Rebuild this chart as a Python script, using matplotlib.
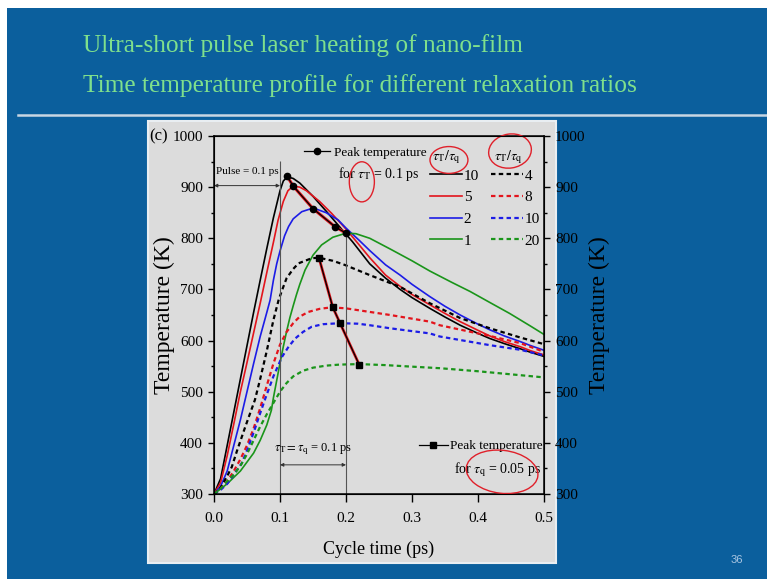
import matplotlib.pyplot as plt
from matplotlib.patches import Rectangle, Ellipse
from matplotlib.lines import Line2D

plt.rcParams['font.family'] = ['Liberation Serif', 'DejaVu Serif']
plt.rcParams['mathtext.fontset'] = 'stix'

# solid curves, tau_T/tau_q = 10, 5, 2, 1
time_r10 = [0, 0.01, 0.02, 0.03, 0.04, 0.05, 0.06, 0.07, 0.08, 0.09, 0.10, 0.105, 0.111, 0.12, 0.13,
            0.15, 0.17, 0.19, 0.21, 0.236, 0.26, 0.282, 0.30, 0.327, 0.35, 0.373, 0.40, 0.418, 0.44,
            0.464, 0.48, 0.50]
temp_r10 = [300, 330, 395, 460, 525, 590, 655, 718, 780, 840, 893, 912, 920, 917, 908,
            882, 853, 823, 793, 750, 722, 700, 684, 663, 646, 630, 614, 604, 594,
            584, 577, 569]

time_r5 = [0, 0.01, 0.02, 0.03, 0.04, 0.05, 0.06, 0.07, 0.08, 0.09, 0.097, 0.105, 0.112, 0.12, 0.13,
           0.14, 0.16, 0.178, 0.20, 0.22, 0.236, 0.26, 0.282, 0.30, 0.327, 0.35, 0.373, 0.40, 0.418,
           0.44, 0.464, 0.48, 0.50]
temp_r5 = [300, 322, 375, 437, 500, 557, 615, 673, 733, 792, 835, 872, 893, 902, 900,
           893, 872, 849, 818, 787, 762, 728, 706, 690, 670, 653, 637, 620, 609,
           598, 588, 580, 572]

time_r2 = [0, 0.01, 0.02, 0.03, 0.04, 0.05, 0.06, 0.07, 0.08, 0.085, 0.09, 0.095, 0.10, 0.107, 0.113,
           0.12, 0.133, 0.145, 0.153, 0.17, 0.188, 0.20, 0.22, 0.236, 0.26, 0.282, 0.30, 0.327, 0.35,
           0.373, 0.40, 0.418, 0.44, 0.464, 0.48, 0.50]
temp_r2 = [300, 315, 345, 395, 445, 500, 555, 608, 655, 679, 718, 750, 775, 805, 823,
           838, 852, 857, 858, 850, 836, 820, 796, 776, 748, 728, 710, 686, 667,
           650, 632, 621, 609, 598, 590, 581]

time_r1 = [0, 0.02, 0.04, 0.06, 0.07, 0.08, 0.087, 0.09, 0.095, 0.10, 0.105, 0.11, 0.115, 0.12, 0.125,
           0.13, 0.138, 0.15, 0.163, 0.18, 0.20, 0.215, 0.236, 0.267, 0.30, 0.327, 0.36, 0.388, 0.42,
           0.448, 0.48, 0.50]
temp_r1 = [300, 320, 345, 380, 405, 435, 464, 488, 522, 556, 588, 618, 645, 668, 690,
           710, 738, 767, 787, 802, 810, 809, 800, 779, 756, 736, 714, 696, 673,
           653, 628, 612]

# dotted curves, tau_T/tau_q = 4, 8, 10, 20
time_r4 = [0, 0.01, 0.02, 0.027, 0.035, 0.047, 0.062, 0.07, 0.08, 0.09, 0.098, 0.105, 0.11, 0.12,
           0.128, 0.148, 0.159, 0.18, 0.198, 0.236, 0.282, 0.327, 0.373, 0.418, 0.464, 0.50]
temp_r4 = [300, 312, 335, 353, 385, 430, 484, 525, 580, 640, 680, 705, 722, 740,
           751, 761, 762, 756, 748, 728, 705, 673, 644, 624, 606, 593]

time_r8 = [0, 0.01, 0.02, 0.03, 0.04, 0.05, 0.06, 0.07, 0.08, 0.09, 0.10, 0.11, 0.12, 0.13, 0.143,
           0.16, 0.178, 0.20, 0.236, 0.267, 0.327, 0.342, 0.418, 0.464, 0.50]
temp_r8 = [300, 310, 325, 345, 368, 395, 428, 468, 512, 555, 592, 617, 634, 647, 656,
           662, 665, 663, 656, 650, 637, 630, 609, 595, 578]

time_r10q = [0, 0.01, 0.02, 0.03, 0.042, 0.05, 0.06, 0.07, 0.077, 0.09, 0.103, 0.113, 0.123, 0.135,
             0.148, 0.165, 0.191, 0.218, 0.236, 0.267, 0.327, 0.342, 0.418, 0.464, 0.50]
temp_r10q = [300, 308, 320, 338, 360, 385, 420, 458, 484, 530, 568, 588, 604, 617,
             627, 632, 634, 633, 630, 624, 614, 608, 591, 582, 571]

time_r20 = [0, 0.01, 0.02, 0.03, 0.04, 0.05, 0.06, 0.07, 0.08, 0.09, 0.10, 0.11, 0.12, 0.135, 0.15,
            0.17, 0.19, 0.22, 0.26, 0.30, 0.342, 0.40, 0.45, 0.50]
temp_r20 = [300, 310, 325, 338, 355, 378, 405, 432, 456, 478, 500, 517, 530, 541, 547,
            551, 553, 554, 552, 549, 546, 540, 534, 528]

# peak temperature loci
peak_time_tauT = [0.111, 0.12, 0.15, 0.183, 0.20]
peak_temp_tauT = [921, 902, 858, 823, 810]
peak_time_tauq = [0.159, 0.18, 0.191, 0.22]
peak_temp_tauq = [762, 665, 634, 553]

solid_labels = ['10', '5', '2', '1']
dotted_labels = ['4', '8', '10', '20']

W, H = 767, 579
def fx(px):
    return px / W
def fy(py):
    return 1 - py / H

fig = plt.figure(figsize=(W / 100, H / 100), dpi=100, facecolor='white')

# slide background
fig.patches.append(Rectangle((fx(7), 0), 1 - fx(7), fy(8), transform=fig.transFigure,
                             facecolor='#0b5f9d', edgecolor='none', zorder=-3))
fig.lines.append(Line2D([fx(18), 1], [fy(115), fy(115)], transform=fig.transFigure,
                        color='#c9d6e3', lw=1.8, zorder=-2))
fig.text(fx(83), fy(46), 'Ultra-short pulse laser heating of nano-film', color='#7fe08c',
         fontsize=18.3, va='center', ha='left')
fig.text(fx(83), fy(86), 'Time temperature profile for different relaxation ratios', color='#7fe08c',
         fontsize=18.3, va='center', ha='left')
fig.text(fx(737), fy(560), '36', color='#a9c6e2', fontsize=8, family='Liberation Sans',
         va='center', ha='center')

# chart panel
fig.patches.append(Rectangle((fx(148), fy(563)), (556 - 148) / W, (563 - 121) / H,
                             transform=fig.transFigure, facecolor='#dcdcdc',
                             edgecolor='#e9eef2', lw=1.5, zorder=-2))
fig.text(fx(149), fy(136), '(c)', fontsize=12, va='center', ha='left')

ax = fig.add_axes([fx(214), fy(494), (544 - 214) / W, (494 - 136) / H])
ax.set_facecolor('none')

blk, red, blu, grn = '#000000', '#e3141c', '#1c1ce6', '#1a951a'
dot = (0, (2.0, 1.5))
l10, = ax.plot(time_r10, temp_r10, color=blk, lw=1.2)
l5, = ax.plot(time_r5, temp_r5, color=red, lw=1.2)
l2, = ax.plot(time_r2, temp_r2, color=blu, lw=1.2)
l1, = ax.plot(time_r1, temp_r1, color=grn, lw=1.2)
d4, = ax.plot(time_r4, temp_r4, color=blk, lw=1.6, ls=dot)
d8, = ax.plot(time_r8, temp_r8, color=red, lw=1.6, ls=dot)
d10, = ax.plot(time_r10q, temp_r10q, color=blu, lw=1.6, ls=dot)
d20, = ax.plot(time_r20, temp_r20, color=grn, lw=1.6, ls=dot)

ax.plot(peak_time_tauT, peak_temp_tauT, color=red, lw=2.2, zorder=3)
pk1, = ax.plot(peak_time_tauT, peak_temp_tauT, color=blk, lw=0.9, marker='o', ms=4.5, zorder=4)
ax.plot(peak_time_tauq, peak_temp_tauq, color=red, lw=2.0, zorder=3)
pk2, = ax.plot(peak_time_tauq, peak_temp_tauq, color=blk, lw=0.9, marker='s', ms=4.5, zorder=4)

ax.vlines([0.1], 300, 952, color='#555555', lw=0.8)
ax.vlines([0.2], 300, 810, color='#555555', lw=0.8)
arrow = dict(arrowstyle='<|-|>', lw=0.7, color='#333333', shrinkA=0, shrinkB=0, mutation_scale=5)
ax.annotate('', xy=(0, 903), xytext=(0.1, 903), arrowprops=arrow)
ax.text(0.05, 922, 'Pulse = 0.1 ps', ha='center', va='bottom', fontsize=8)
ax.annotate('', xy=(0.1, 357), xytext=(0.2, 357), arrowprops=arrow)
ax.text(0.15, 372, r'$\tau_\mathrm{T}=\tau_\mathrm{q}$ = 0.1 ps', ha='center', va='bottom', fontsize=9)

ax.set_xlim(0, 0.5)
ax.set_ylim(300, 1000)
ax.set_xticks([0, 0.1, 0.2, 0.3, 0.4, 0.5])
ax.set_xticklabels(['0.0', '0.1', '0.2', '0.3', '0.4', '0.5'])
ax.set_yticks(range(300, 1001, 100))
ax.set_yticks(range(350, 1000, 100), minor=True)
ax.tick_params(axis='both', which='major', direction='out', length=4.5, width=1, labelsize=11)
ax.tick_params(axis='x', which='major', length=6, pad=7)
ax.tick_params(axis='y', which='minor', direction='out', length=2.5, width=1)
for s in ax.spines.values():
    s.set_linewidth(1.1)
ax.set_xlabel('Cycle time (ps)', fontsize=13, labelpad=11)
ax.set_ylabel('Temperature (K)', fontsize=17, labelpad=-2)

ax2 = ax.twinx()
ax2.set_ylim(300, 1000)
ax2.set_yticks(range(300, 1001, 100))
ax2.set_yticks(range(350, 1000, 100), minor=True)
ax2.tick_params(axis='y', which='major', direction='out', length=4.5, width=1, labelsize=11)
ax2.tick_params(axis='y', which='minor', direction='out', length=2.5, width=1)
ax2.set_ylabel('Temperature (K)', fontsize=17, labelpad=2)

leg = ax.legend([l10, l5, l2, l1, d4, d8, d10, d20], solid_labels + dotted_labels, ncol=2,
                loc='upper left', bbox_to_anchor=(0.655, 0.908), frameon=False, fontsize=11,
                handlelength=2.1, handletextpad=0.1, columnspacing=0.8, labelspacing=0.52,
                borderaxespad=0, borderpad=0)
ax.add_artist(leg)
leg2 = ax.legend([pk1], ['Peak temperature'], loc='upper left', bbox_to_anchor=(0.272, 0.97),
                 frameon=False, fontsize=9.5, handlelength=2.0, handletextpad=0.3,
                 borderaxespad=0, borderpad=0)
ax.add_artist(leg2)
ax.legend([pk2], ['Peak temperature'], loc='upper left', bbox_to_anchor=(0.62, 0.151),
          frameon=False, fontsize=9.5, handlelength=2.2, handletextpad=0.2,
          borderaxespad=0, borderpad=0)
ax.text(0.376, 0.895, r'for $\tau_\mathrm{T}$ = 0.1 ps', transform=ax.transAxes, fontsize=10,
        va='center', ha='left')
ax.text(0.728, 0.068, r'for $\tau_\mathrm{q}$ = 0.05 ps', transform=ax.transAxes, fontsize=10,
        va='center', ha='left')
ax.text(0.705, 0.94, r'$\tau_\mathrm{T}/\tau_\mathrm{q}$', transform=ax.transAxes, fontsize=10,
        va='center', ha='center')
ax.text(0.892, 0.94, r'$\tau_\mathrm{T}/\tau_\mathrm{q}$', transform=ax.transAxes, fontsize=10,
        va='center', ha='center')

# hand-drawn red marks on the slide (axes fractions)
for cx, cy, w, h, a in [(0.712, 0.933, 0.115, 0.075, 0), (0.897, 0.958, 0.130, 0.095, 8),
                        (0.448, 0.872, 0.076, 0.112, 0), (0.873, 0.062, 0.218, 0.120, -6)]:
    ax.add_patch(Ellipse((cx, cy), w, h, angle=a, transform=ax.transAxes, fill=False,
                         edgecolor='#e0202a', lw=1.0, clip_on=False, zorder=6))

fig.savefig('out.png', dpi=100, facecolor=fig.get_facecolor())
